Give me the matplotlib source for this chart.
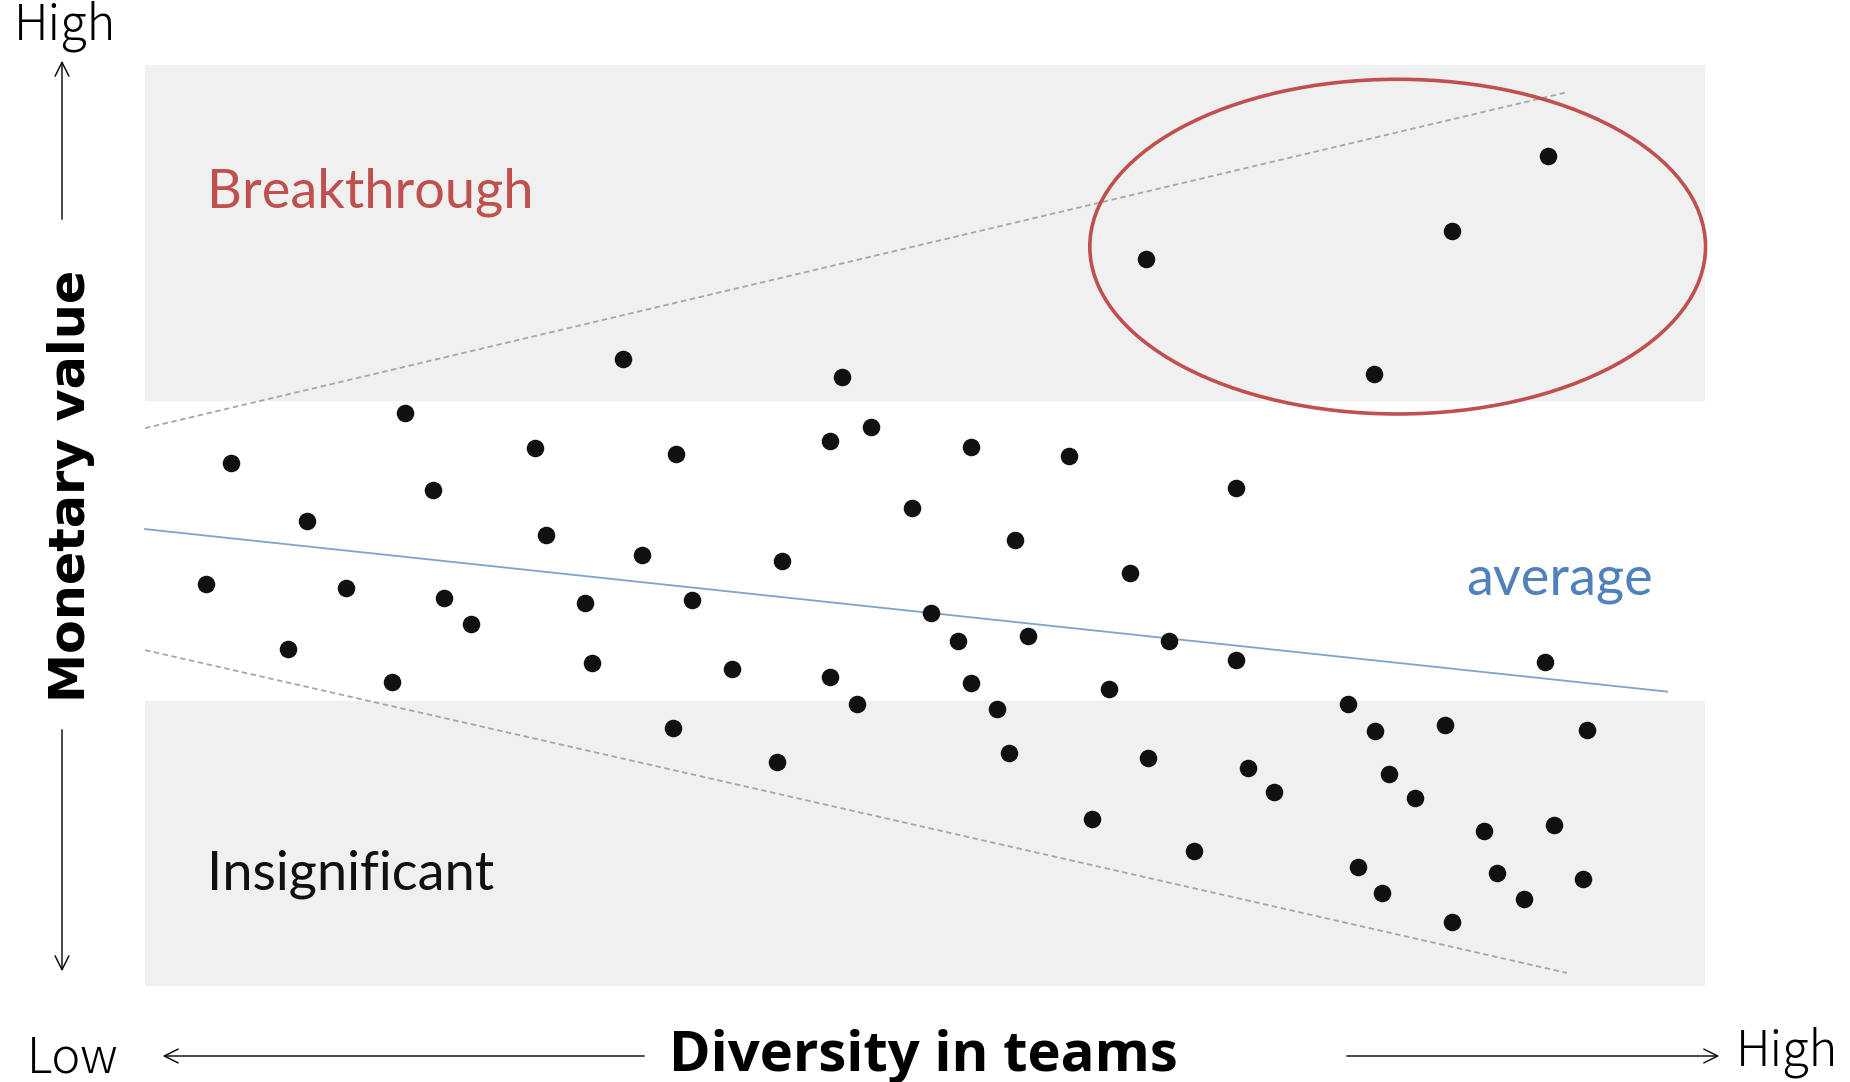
import matplotlib.pyplot as plt
from matplotlib.patches import Ellipse, FancyArrowPatch

# data: diversity (0-10) vs monetary value (0-10)
div_x = [0.553, 0.394, 1.038, 0.917, 1.288, 1.667, 1.848, 1.917, 2.091, 1.583,
         2.500, 2.568, 2.818, 2.864, 3.061, 3.189, 3.402, 3.508, 3.386, 3.765,
         4.053, 4.083, 4.470, 4.394, 4.652, 4.394, 4.561, 4.917, 5.038, 5.212,
         5.295, 5.295, 5.462, 5.538, 5.576, 5.659, 5.924, 6.182, 6.311, 6.068,
         6.432, 6.561, 6.727, 6.992, 6.992, 7.068, 7.235, 6.417, 7.879, 8.379,
         8.992, 7.712, 7.886, 7.977, 8.144, 8.333, 7.773, 7.932, 8.379, 8.583,
         8.667, 8.841, 9.030, 9.220, 9.242, 8.977]
value_y = [5.683, 4.369, 5.052, 3.660, 4.317, 6.224, 5.387, 4.214, 3.930, 3.299,
           5.838, 4.897, 4.162, 3.505, 6.804, 4.678, 5.773, 4.188, 2.796, 3.441,
           2.436, 4.613, 6.611, 5.915, 6.070, 3.351, 3.067, 5.193, 4.046, 3.750,
           5.851, 3.286, 3.003, 2.526, 4.845, 3.802, 5.760, 3.222, 4.485, 1.817,
           2.474, 3.750, 1.469, 5.412, 3.544, 2.371, 2.101, 7.899, 6.649, 8.196,
           9.008, 3.067, 2.771, 2.307, 2.036, 2.835, 1.289, 1.005, 0.696, 1.688,
           1.224, 0.941, 1.753, 1.160, 2.784, 3.518]

upper_x = [0.0, 9.114]
upper_y = [6.057, 9.704]
lower_x = [0.0, 9.114]
lower_y = [3.647, 0.142]
avg_x = [0.0, 9.758]
avg_y = [4.961, 3.196]

band_top = (6.366, 10.0)
band_bottom = (0.0, 3.093)

fig = plt.figure(figsize=(18.5, 10.82), dpi=100)
W, H = 1850, 1082

def fx(px):
    return px / W

def fy(py):
    return 1 - py / H

ax = fig.add_axes([fx(145), fy(986), fx(1705) - fx(145), fy(65) - fy(986)])
ax.set_xlim(0, 10)
ax.set_ylim(0, 10)
ax.axis('off')

gray = '#f0f0f0'
ax.axhspan(*band_top, color=gray, zorder=0)
ax.axhspan(*band_bottom, color=gray, zorder=0)

ax.plot(upper_x, upper_y, color='#a6a6a6', lw=1.3, ls=(0, (3, 2)), zorder=1)
ax.plot(lower_x, lower_y, color='#a6a6a6', lw=1.3, ls=(0, (3, 2)), zorder=1)
ax.plot(avg_x, avg_y, color='#7ea3cf', lw=1.3, zorder=1, clip_on=False)

ax.scatter(div_x, value_y, s=135, color='#111111', zorder=3)

ax.add_patch(Ellipse((8.03, 8.028), 3.947, 3.634, fill=False,
                     edgecolor='#c0504d', lw=2.6, zorder=2, clip_on=False))

ax.text(0.40, 8.62, 'Breakthrough', color='#c0504d', fontsize=39,
        family='Lato', va='center', ha='left')
ax.text(0.40, 1.21, 'Insignificant', color='#111111', fontsize=39,
        family='Lato', va='center', ha='left')
ax.text(8.47, 4.41, 'average', color='#4f81bd', fontsize=39,
        family='Lato', va='center', ha='left')

# axis annotations
side = dict(fontsize=35, family=['Noto Sans CJK JP', 'DejaVu Sans'],
            weight='light', color='black', ha='center', va='center')
fig.text(fx(65), fy(26), 'High', **side)
fig.text(fx(73), fy(1059), 'Low', **side)
fig.text(fx(1787), fy(1052), 'High', **side)
fig.text(fx(71), fy(486), 'Monetary value', fontsize=35.5, weight='bold',
         family='DejaVu Sans', rotation=90, ha='center', va='center')
fig.text(fx(923), fy(1056), 'Diversity in teams', fontsize=40.5, weight='bold',
         family='Open Sans', ha='center', va='center')

arrow = dict(arrowstyle='->', lw=1.0, color='black', mutation_scale=25,
             transform=fig.transFigure)
fig.add_artist(FancyArrowPatch((fx(62), fy(222)), (fx(62), fy(58)), **arrow))
fig.add_artist(FancyArrowPatch((fx(62), fy(727)), (fx(62), fy(974)), **arrow))
fig.add_artist(FancyArrowPatch((fx(647), fy(1056)), (fx(160), fy(1056)), **arrow))
fig.add_artist(FancyArrowPatch((fx(1344), fy(1056)), (fx(1722), fy(1056)), **arrow))

fig.savefig('out.png', dpi=100)
